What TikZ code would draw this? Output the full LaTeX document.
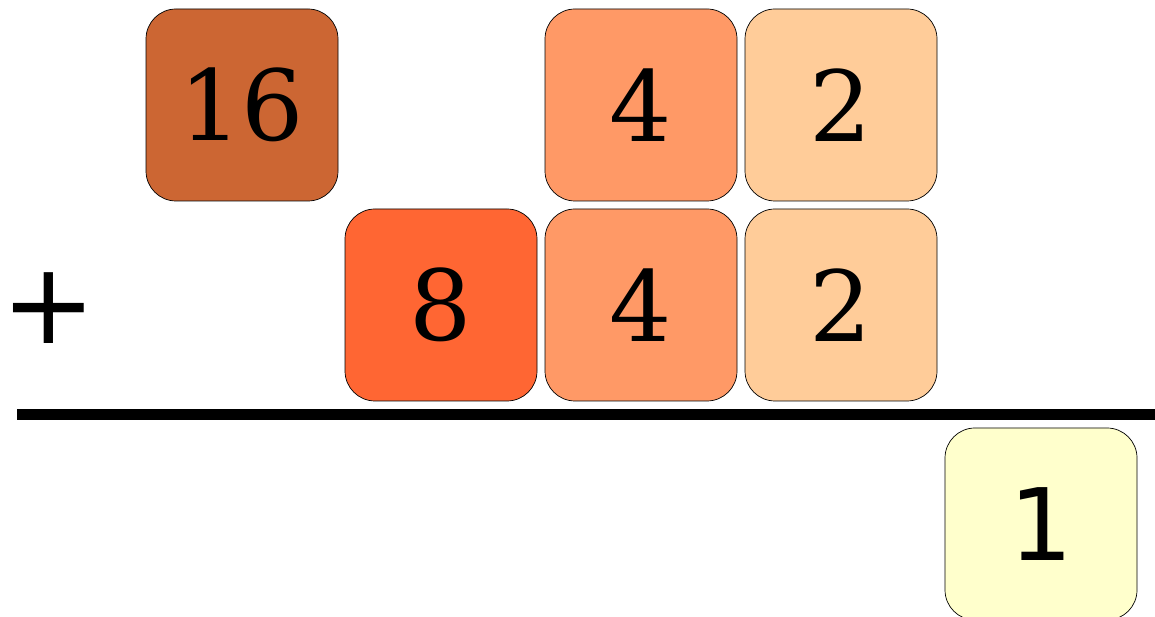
\documentclass[tikz,border=0pt]{standalone}
\usepackage{fontspec}
\setmainfont{DejaVu Serif}
\newfontfamily\onefont{DejaVu Sans}
\usepackage{xcolor}
\usepackage{tikz}
\usetikzlibrary{positioning}
\definecolor{sixteencolor}{HTML}{CC6633}
\definecolor{eightcolor}{HTML}{FF6633}
\definecolor{fourcolor}{HTML}{FF9966}
\definecolor{twocolor}{HTML}{FFCC99}
\definecolor{onecolor}{HTML}{FFFFCC}
\tikzset{
  digitbox/.style={draw=black, line width=0.7pt, rounded corners=30pt, minimum width=192pt, minimum height=192pt, inner sep=0pt, font=\fontsize{98}{110}\selectfont},
  sumline/.style={black, line width=11pt}
}

\begin{document}
\begin{tikzpicture}[x=1pt,y=1pt]
  \useasboundingbox (0,0) rectangle (1155,617);
  % first row
  \node[digitbox, fill=sixteencolor] (sixteen) at (242,512) {16};
  \node[digitbox, fill=fourcolor] (fourA) at (641,512) {4};
  \node[digitbox, fill=twocolor, right=7.3pt of fourA] (twoA) {2};
  % second row
  \node[digitbox, fill=fourcolor, below=7.3pt of fourA] (fourB) {4};
  \node[digitbox, fill=eightcolor, left=7.3pt of fourB] (eight) {8};
  \node[digitbox, fill=twocolor, right=7.3pt of fourB] (twoB) {2};
  \node[font=\onefont\fontsize{113}{120}\selectfont, inner sep=0pt] (plus) at (49,309) {+};
  % result
  \coordinate (lineL) at (17,202);
  \coordinate (lineR) at (1155,202);
  \draw[sumline] (lineL) -- (lineR);
  \node[digitbox, fill=onecolor, font=\onefont\fontsize{100}{110}\selectfont] (one) at (1041,93) {1};
\end{tikzpicture}
\end{document}
